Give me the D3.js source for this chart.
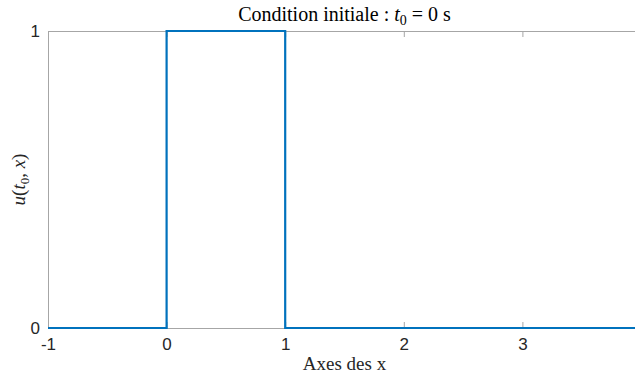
<!DOCTYPE html>
<html>
<head>
<meta charset="utf-8">
<script src="https://cdn.jsdelivr.net/npm/d3@7"></script>
<style>
  body { margin: 0; background: #fff; }
  svg { display: block; }
</style>
</head>
<body>
<div id="graphArea"></div>
<script>
// condition initiale : creneau entre 0 et 1
var xValues = [-1, 0, 0, 1, 1, 4];
var uValues = [0, 0, 1, 1, 0, 0];
var xTicks = [-1, 0, 1, 2, 3];
var yTicks = [0, 1];

var W = 635, H = 374;
var margin = { top: 31, left: 48, bottom: 46, right: -6 };
var width = W - margin.left - margin.right;
var height = H - margin.top - margin.bottom;

var svg = d3.select("#graphArea").append("svg")
  .attr("width", W)
  .attr("height", H);

var g = svg.append("g")
  .attr("transform", "translate(" + margin.left + "," + margin.top + ")");

var x = d3.scaleLinear().domain([-1, 4]).range([0, width]);
var y = d3.scaleLinear().domain([0, 1]).range([height, 0]);

var axisColor = "#a6a6a6";
var tickFont = "Liberation Sans, Arial, sans-serif";
var fmt = function(d) { return String(d); };

// axes MATLAB style : ticks vers l'interieur
var xBottom = g.append("g")
  .attr("transform", "translate(0," + height + ")")
  .call(d3.axisBottom(x).tickValues(xTicks).tickSize(-6).tickFormat(fmt));
var xTop = g.append("g")
  .call(d3.axisTop(x).tickValues(xTicks).tickSize(-6).tickFormat(""));
var yLeft = g.append("g")
  .call(d3.axisLeft(y).tickValues(yTicks).tickSize(-6).tickFormat(fmt));

[xBottom, xTop, yLeft].forEach(function(a) {
  a.selectAll("path").attr("stroke", axisColor).attr("stroke-width", 1);
  a.selectAll("line").attr("stroke", axisColor);
  a.selectAll("text")
    .attr("fill", "#262626")
    .style("font-family", tickFont)
    .style("font-size", "17px");
});
xBottom.selectAll("text").attr("dy", "0.71em").attr("y", 10);
yLeft.selectAll("text").attr("x", -8);

var line = d3.line()
  .x(function(d, i) { return x(xValues[i]); })
  .y(function(d, i) { return y(uValues[i]); });

g.append("path")
  .datum(uValues)
  .attr("d", line)
  .attr("fill", "none")
  .attr("stroke", "#0072BD")
  .attr("stroke-width", 2.2)
  .attr("stroke-linejoin", "miter");

var serif = "'Liberation Serif', 'Times New Roman', serif";

// titre
var title = svg.append("text")
  .attr("x", margin.left + width / 2)
  .attr("y", 21)
  .attr("text-anchor", "middle")
  .style("font-family", serif)
  .style("font-size", "20px")
  .attr("fill", "#000");
title.append("tspan").text("Condition initiale :  ");
title.append("tspan").style("font-style", "italic").text("t");
title.append("tspan").attr("dy", 4).style("font-size", "14px").text("0");
title.append("tspan").attr("dy", -4).text(" = 0 s");

// label x
svg.append("text")
  .attr("x", margin.left + width / 2)
  .attr("y", 370)
  .attr("text-anchor", "middle")
  .style("font-family", serif)
  .style("font-size", "19px")
  .attr("fill", "#262626")
  .text("Axes des x");

// label y
var yl = svg.append("text")
  .attr("transform", "translate(25," + (margin.top + height / 2) + ") rotate(-90)")
  .attr("text-anchor", "middle")
  .style("font-family", serif)
  .style("font-size", "19px")
  .attr("fill", "#262626");
yl.append("tspan").style("font-style", "italic").text("u");
yl.append("tspan").text("(");
yl.append("tspan").style("font-style", "italic").text("t");
yl.append("tspan").attr("dy", 4).style("font-size", "13px").text("0");
yl.append("tspan").attr("dy", -4).text(", ");
yl.append("tspan").style("font-style", "italic").text("x");
yl.append("tspan").text(")");
</script>
</body>
</html>
